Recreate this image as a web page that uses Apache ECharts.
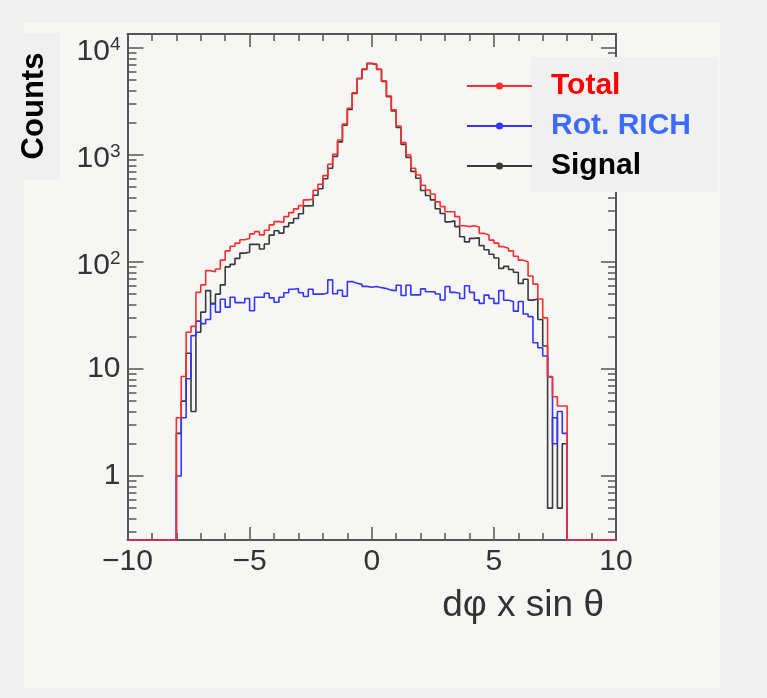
<!DOCTYPE html>
<html>
<head>
<meta charset="utf-8">
<script src="https://cdn.jsdelivr.net/npm/echarts@6/dist/echarts.min.js"></script>
<style>
html,body{margin:0;padding:0;background:#f0f0f0;}
#chart{width:767px;height:698px;}
</style>
</head>
<body>
<div id="chart"></div>
<script>
// ---- axis / binning ----
const X_MIN = -10, X_MAX = 10, BIN_WIDTH = 0.2, X_INTERVAL = 5;
const Y_MIN = 0.252, Y_MAX = 13500;
const Y_MAJOR_TICKS = [1, 10, 100, 1000, 10000];
const Y_MINOR_TICKS = [0.3,0.4,0.5,0.6,0.7,0.8,0.9,
  2,3,4,5,6,7,8,9, 20,30,40,50,60,70,80,90,
  200,300,400,500,600,700,800,900, 2000,3000,4000,5000,6000,7000,8000,9000];

const SERIES_NAMES = ['Total', 'Rot. RICH', 'Signal'];
const X_TITLE = 'd\u03C6 x sin \u03B8';
const Y_TITLE = 'Counts';

// ---- bin contents (100 bins of width 0.2 from -10 to 10) ----
const total = [
  0,0,0,0,0,0,0,0,0,0,
  3.5,8.5,22,25,52,61,83,81,86,104,
  127,140,150,161,166,183,192,179,198,222,
  238,235,265,289,313,336,380,385,468,532,
  641,819,1015,1381,1948,2731,3819,5208,6364,7200,
  7080,6340,4920,3560,2635,1866,1303,1000,750,650,
  521,471,432,364,329,295,295,265,218,214,
  218,212,185,179,160,150,139,134,127,113,
  104,100,74,62,45,30,8.5,5.5,4.5,4.5,
  0,0,0,0,0,0,0,0,0,0
];
const rotRich = [
  0,0,0,0,0,0,0,0,0,0,
  1.0,3.5,8.1,20.5,28,26.5,29,40.5,34,44.8,
  37.8,46.8,41.7,41.6,45.5,35,46.8,46.8,51,46.2,
  42,46.8,51.5,55.5,56.5,51.5,47.5,55.5,50,50,
  51.3,68,50.5,54.3,47.8,65.5,63.3,61.7,59.1,58,
  59,57.5,56.5,54.5,53.9,60.5,48.6,60.6,49.2,49.2,
  56,52.6,52.5,50.1,44.1,58.9,52,51,45.6,60,
  52,44,41,49,45.6,41,54,43.8,42.7,34.7,
  42.7,32.6,30.8,17.6,15.8,13.2,8.4,2.0,4.0,2.5,
  0,0,0,0,0,0,0,0,0,0
];
const signal = [
  0,0,0,0,0,0,0,0,0,0,
  2.5,5,14,4,22,34,54,41,50,61,
  90,95,108,121,123,146,146,132,147,178,
  196,186,214,232,255,282,334,335,420,483,
  600,752,970,1326,1900,2666,3756,5147,6305,7142,
  7021,6283,4863,3506,2581,1807,1255,950,702,605,
  466,418,380,314,284,237,242,214,172,154,
  166,168,142,130,118,109,87,91,85,80,
  63,69,44,45,29,16.4,0.5,3.5,0.5,2.0,
  0,0,0,0,0,0,0,0,0,0
];

const FONT = '"Liberation Sans", Arial, Helvetica, sans-serif';
const AXIS_COLOR = '#555555';
const LABEL_COLOR = '#333333';

function stepData(values) {
  const pts = [];
  for (let i = 0; i < values.length; i++) {
    const edge = Math.round((X_MIN + i * BIN_WIDTH) * 1000) / 1000;
    const v = values[i] > 0 ? values[i] : Y_MIN;
    pts.push([edge, v]);
  }
  const last = values[values.length - 1];
  pts.push([X_MAX, last > 0 ? last : Y_MIN]);
  return pts;
}

function histSeries(name, values, color, z) {
  return {
    name: name, type: 'line', step: 'end',
    data: stepData(values),
    symbol: 'circle', showSymbol: false,
    lineStyle: { color: color, width: 1.6 },
    itemStyle: { color: color },
    clip: false, animation: false, z: z,
    xAxisIndex: 0, yAxisIndex: 0
  };
}

function xLabel(v) { return v < 0 ? '\u2212' + Math.abs(v) : String(v); }
function yLabel(v) {
  const e = Math.round(Math.log10(v));
  if (e === 0) return '1';
  if (e === 1) return '10';
  return '{b|10}{sup|' + e + '}';
}

function lineDef(show) {
  return { show: show, onZero: false, lineStyle: { color: AXIS_COLOR, width: 2 } };
}

function xAxisDef(pos, showLabels) {
  return {
    type: 'value', position: pos, min: X_MIN, max: X_MAX, interval: X_INTERVAL,
    axisLine: lineDef(true),
    axisTick: { show: true, inside: true, length: 13, lineStyle: { color: AXIS_COLOR, width: 1.5 } },
    minorTick: { show: true, splitNumber: 5, length: 7, lineStyle: { color: AXIS_COLOR, width: 1.5 } },
    axisLabel: { show: showLabels, formatter: xLabel, fontSize: 30, color: LABEL_COLOR, fontFamily: FONT, margin: 7 },
    splitLine: { show: false }, minorSplitLine: { show: false }
  };
}

function yAxisDef(pos, ticks, len, showLabels, showLine) {
  return {
    type: 'log', logBase: 10, position: pos, min: Y_MIN, max: Y_MAX,
    axisLine: lineDef(showLine),
    axisTick: { show: true, inside: true, length: len, customValues: ticks, lineStyle: { color: AXIS_COLOR, width: 1.5 } },
    axisLabel: {
      show: showLabels, customValues: ticks, formatter: yLabel, fontSize: 30, color: LABEL_COLOR,
      fontFamily: FONT, margin: 7,
      rich: {
        b: { fontSize: 30, color: LABEL_COLOR, fontFamily: FONT, padding: [8, 0, 0, 0] },
        sup: { fontSize: 19, color: LABEL_COLOR, fontFamily: FONT, padding: [0, 0, 7, 0] }
      }
    },
    splitLine: { show: false }
  };
}

const chart = echarts.init(document.getElementById('chart'), null, { renderer: 'canvas' });
chart.setOption({
  backgroundColor: '#f0f0f0',
  animation: false,
  textStyle: { fontFamily: FONT },
  grid: { left: 127.5, right: 151, top: 34, bottom: 158, containLabel: false },
  xAxis: [xAxisDef('bottom', true), xAxisDef('top', false)],
  yAxis: [
    yAxisDef('left', Y_MAJOR_TICKS, 16, true, true),
    yAxisDef('left', Y_MINOR_TICKS, 9, false, false),
    yAxisDef('right', Y_MAJOR_TICKS, 15, false, true),
    yAxisDef('right', Y_MINOR_TICKS, 8, false, false)
  ],
  legend: {
    orient: 'vertical', left: 466, top: 71, padding: 0,
    itemWidth: 65, itemHeight: 9, itemGap: 10,
    selectedMode: false,
    textStyle: { fontSize: 30, fontWeight: 'bold', fontFamily: FONT, padding: [0, 0, 0, 14] },
    data: [
      { name: SERIES_NAMES[0], textStyle: { color: '#ff0000' } },
      { name: SERIES_NAMES[1], textStyle: { color: '#3d6bff' } },
      { name: SERIES_NAMES[2], textStyle: { color: '#000000' } }
    ]
  },
  graphic: [
    { type: 'rect', silent: true, z: -10, shape: { x: 24, y: 23, width: 696, height: 665 }, style: { fill: '#f6f7f5' } },
    { type: 'rect', silent: true, z: -9, shape: { x: 24, y: 33, width: 36, height: 147 }, style: { fill: '#efefef' } },
    { type: 'text', silent: true, z: 5, x: 34, y: 106, rotation: Math.PI / 2,
      style: { text: Y_TITLE, font: 'bold 31px ' + FONT, fill: '#000', align: 'center', verticalAlign: 'middle' } },
    { type: 'rect', silent: true, z: 3, shape: { x: 531, y: 57, width: 187, height: 135 }, style: { fill: '#f0f0f0' } },
    { type: 'text', silent: true, z: 5, x: 604, y: 606,
      style: { text: X_TITLE, font: '37px ' + FONT, fill: LABEL_COLOR, align: 'right', verticalAlign: 'middle' } }
  ],
  series: [
    histSeries(SERIES_NAMES[2], signal, '#3a3a3a', 2),
    histSeries(SERIES_NAMES[1], rotRich, '#3535ff', 3),
    histSeries(SERIES_NAMES[0], total, '#ff2d2d', 4)
  ]
});
</script>
</body>
</html>
